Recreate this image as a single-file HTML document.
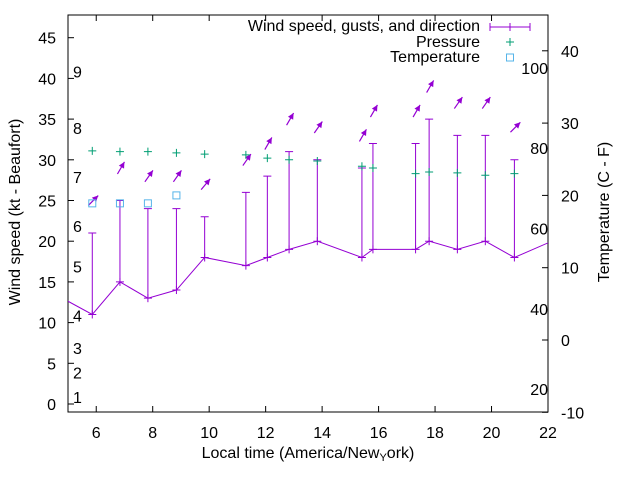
<!DOCTYPE html>
<html><head><meta charset="utf-8"><style>
html,body{margin:0;padding:0;background:#fff;}
svg{display:block;font-family:"Liberation Sans",sans-serif;}
</style></head><body>
<svg id="chart" width="640" height="480" viewBox="0 0 640 480" xmlns="http://www.w3.org/2000/svg">
<defs><clipPath id="clip"><rect x="68" y="15" width="480" height="397"/></clipPath></defs>
<g id="grid"></g>
</svg>
<script>
const times = [4.8, 5.86, 6.84, 7.83, 8.84, 9.84, 11.3, 12.06, 12.83, 13.83, 15.41, 15.8, 17.31, 17.79, 18.79, 19.78, 20.81, 22.8];
const windSpeed = [13, 11, 15, 13, 14, 18, 17, 18, 19, 20, 18, 19, 19, 20, 19, 20, 18, 21];
const gusts = [null, 21, 25, 24, 24, 23, 26, 28, 31, 30, 29, 32, 32, 35, 33, 33, 30, null];
const windDir = [null, 225, 210, 215, 215, 220, 215, 210, 210, 215, 210, 210, 210, 210, 215, 215, 225, null];
const pressure = [null, 31.1, 31.0, 31.0, 30.85, 30.7, 30.6, 30.2, 30.0, 29.85, 29.2, 29.0, 28.3, 28.5, 28.4, 28.1, 28.3, null];
const tempTimes = [5.86, 6.84, 7.83, 8.84];
const tempC = [18.9, 18.9, 18.9, 20.0];
const xTicks = [6, 8, 10, 12, 14, 16, 18, 20, 22];
const yTicks = [0, 5, 10, 15, 20, 25, 30, 35, 40, 45];
const y2Ticks = [-10, 0, 10, 20, 30, 40];
const beaufort = [1, 2, 3, 4, 5, 6, 7, 8, 9];
const beaufortKt = [1, 4, 7, 11, 17, 22, 28, 34, 41];
const fahrenheit = [20, 40, 60, 80, 100];

const L=68,R=548,T=15,B=412;
const X=t=>L+(t-5)/(22-5)*(R-L);
const Y=v=>404-v*(404-363.3)/5;
const Y2=c=>340-c*7.23;
const svg=document.getElementById('chart');
const NS='http://www.w3.org/2000/svg';
function mk(tag,attrs,parent){const e=document.createElementNS(NS,tag);for(const k in attrs)e.setAttribute(k,attrs[k]);(parent||svg).appendChild(e);return e;}
const P='#9400d3', G='#009e73', C='#56b4e9';

const frame=mk('rect',{x:L,y:T,width:R-L,height:B-T,fill:'none',stroke:'#000','stroke-width':1});



xTicks.forEach(t=>{
  const x=X(t);
  const a=mk('line',{x1:x,x2:x,y1:B,y2:B-6,stroke:'#000'});
  
  
  const b=mk('line',{x1:x,x2:x,y1:T,y2:T+6,stroke:'#000'});
  
  
  const tx=mk('text',{x:x,y:B+26,'text-anchor':'middle','font-size':16});
  tx.textContent=t;
  
  
});
yTicks.forEach(v=>{
  const y=Y(v);
  const a=mk('line',{x1:L,x2:L+6,y1:y,y2:y,stroke:'#000'});
  
  
  const tx=mk('text',{x:L-12,y:y+6,'text-anchor':'end','font-size':16});
  tx.textContent=v;
  
  
});
y2Ticks.forEach(v=>{
  const y=Y2(v);
  const a=mk('line',{x1:R,x2:R-6,y1:y,y2:y,stroke:'#000'});
  
  
  const tx=mk('text',{x:R+13,y:y+6,'text-anchor':'start','font-size':16});
  tx.textContent=v;
  
  
});
beaufort.forEach((b,i)=>{
  const tx=mk('text',{x:73,y:Y(beaufortKt[i])+7,'font-size':16});
  tx.textContent=b;
  
  
});
fahrenheit.forEach(f=>{
  const tx=mk('text',{x:548,y:Y2((f-32)*5/9)+7,'text-anchor':'end','font-size':16});
  tx.textContent=f;
  
  
});

const g=mk('g',{'clip-path':'url(#clip)'});


const line=mk('polyline',{points:times.map((t,i)=>X(t)+','+Y(windSpeed[i])).join(' '),fill:'none',stroke:P,'stroke-width':1},g);


times.forEach((t,i)=>{
  const x=X(t),y=Y(windSpeed[i]);
  const tk=mk('line',{x1:x,x2:x,y1:y-4,y2:y+4,stroke:P},g);
  
  
  if(gusts[i]!=null){
    const yg=Y(gusts[i]);
    const e=mk('path',{d:`M${x},${y}V${yg}M${x-4},${yg}H${x+4}M${x-4},${y}H${x+4}`,stroke:P,fill:'none'},g);
    
    
    const ang=(windDir[i]+180)*Math.PI/180;
    const dx=Math.sin(ang)*7, dy=-Math.cos(ang)*7;
    const cx=x+1, cy=Y(gusts[i]+4);
    const x1=cx-dx,y1=cy-dy,x2=cx+dx,y2=cy+dy;
    const ar=mk('line',{x1:x1,y1:y1,x2:x2,y2:y2,stroke:P,'stroke-width':1.2},g);
    
    
    const ux=dx/7,uy=dy/7,px=-uy,py=ux;
    const hd=mk('polygon',{points:`${x2},${y2} ${x2-ux*6+px*3},${y2-uy*6+py*3} ${x2-ux*6-px*3},${y2-uy*6-py*3}`,fill:P},g);
    
    
  }
  if(pressure[i]!=null){
    const py2=Y(pressure[i]);
    const p=mk('path',{d:`M${x-4},${py2}H${x+4}M${x},${py2-4}V${py2+4}`,stroke:G,'stroke-width':1},g);
    
    
  }
});
tempTimes.forEach((t,i)=>{
  const r=mk('rect',{x:X(t)-3.5,y:Y2(tempC[i])-3.5,width:7,height:7,fill:'none',stroke:C,'stroke-width':1},g);
  
  
});
</script>
<svg style="position:absolute;left:0;top:0" width="640" height="480">
<g font-family="Liberation Sans, sans-serif" font-size="16">
<g>
<text x="480" y="31" text-anchor="end">Wind speed, gusts, and direction</text>
<path d="M490,27H530M490,23V31M530,23V31M510,23V31" stroke="#9400d3"/>
<text x="480" y="47" text-anchor="end">Pressure</text>
<path d="M506,42H514M510,38V46" stroke="#009e73"/>
<text x="480" y="62" text-anchor="end">Temperature</text>
<rect x="506.5" y="54" width="7" height="7" fill="none" stroke="#56b4e9"/>
</g>
<text x="308" y="458" text-anchor="middle">Local time (America/New<tspan font-size="11" dy="3">Y</tspan><tspan dy="-3">ork)</tspan></text>
<text transform="translate(20,212) rotate(-90)" text-anchor="middle">Wind speed (kt - Beaufort)</text>
<text transform="translate(609,212) rotate(-90)" text-anchor="middle">Temperature (C - F)</text>
</g>
</svg>
</body></html>
